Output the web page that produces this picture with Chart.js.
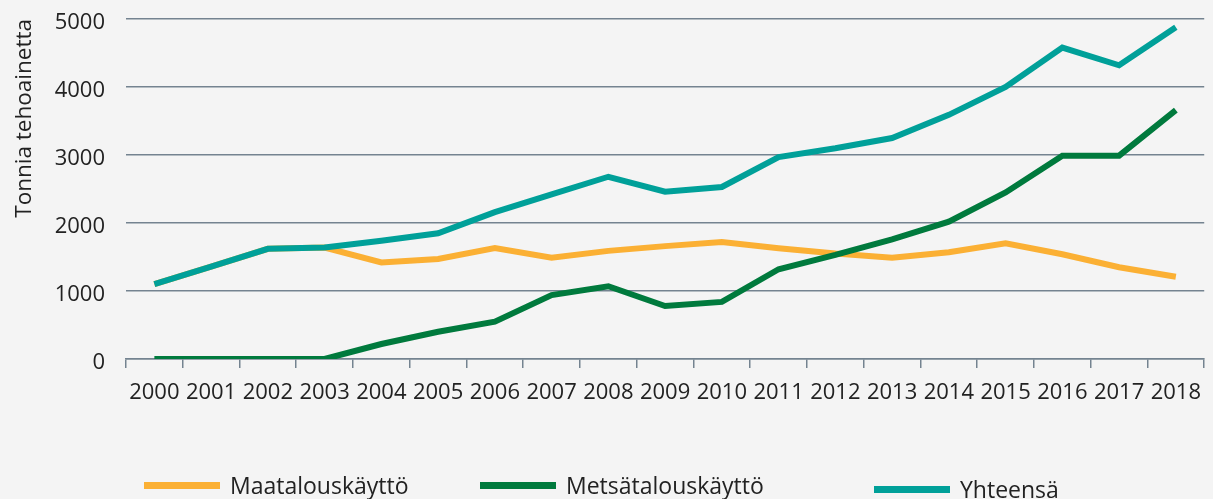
<!DOCTYPE html>
<html lang="fi">
<head>
<meta charset="utf-8">
<title>Tonnia tehoainetta</title>
<script src="https://cdn.jsdelivr.net/npm/chart.js@4"></script>
<style>
  html, body { margin: 0; padding: 0; background: #f4f4f4; }
  #wrap { position: relative; width: 1213px; height: 499px; overflow: hidden; }
  canvas { display: block; }
  #legend { list-style: none; margin: 0; padding: 0; }
  #legend li {
    position: absolute;
    top: 471px;
    height: 28px;
    display: flex;
    align-items: center;
    font: 23px/28px "Open Sans", "Noto Sans", sans-serif;
    color: #222;
    white-space: nowrap;
  }
  #legend li:nth-child(1) { left: 144px; }
  #legend li:nth-child(2) { left: 480px; }
  #legend li:nth-child(3) { left: 874px; top: 475px; }
  #legend .swatch { display: inline-block; width: 76px; height: 7px; margin-right: 10px; }
</style>
</head>
<body>
<div id="wrap">
  <canvas id="chart" width="1213" height="499"></canvas>
  <ul id="legend"></ul>
</div>
<script>
const years = ['2000', '2001', '2002', '2003', '2004', '2005', '2006', '2007', '2008', '2009',
               '2010', '2011', '2012', '2013', '2014', '2015', '2016', '2017', '2018'];

// tonnia tehoainetta, luettu kuvasta
const maatalous   = [1100, 1360, 1620, 1640, 1420, 1470, 1630, 1490, 1590, 1660,
                     1720, 1630, 1550, 1490, 1570, 1700, 1540, 1350, 1210];
const metsatalous = [0, 0, 0, 0, 220, 400, 550, 940, 1070, 780,
                     840, 1320, 1530, 1760, 2020, 2450, 2990, 2990, 3660];
const yhteensa    = [1100, 1360, 1620, 1640, 1740, 1850, 2160, 2420, 2680, 2460,
                     2530, 2970, 3100, 3250, 3590, 4000, 4580, 4320, 4880];

const yMin = 0, yMax = 5000, yStep = 1000;

const gridColor = '#748390';
const textColor = '#222222';
const family = '"Open Sans", "Noto Sans", sans-serif';
const tickFont = { family: family, size: 22 };

function line(label, data, color, order) {
  return {
    label: label,
    data: data,
    borderColor: color,
    backgroundColor: color,
    borderWidth: 6,
    pointRadius: 0,
    tension: 0,
    borderCapStyle: 'butt',
    borderJoinStyle: 'miter',
    order: order   // yhteensä piirretään päällimmäiseksi
  };
}

const chart = new Chart(document.getElementById('chart'), {
  type: 'line',
  data: {
    labels: years,
    datasets: [
      line('Maatalouskäyttö', maatalous, '#fbb034', 2),
      line('Metsätalouskäyttö', metsatalous, '#007a3d', 1),
      line('Yhteensä', yhteensa, '#00a099', 0)
    ]
  },
  options: {
    responsive: false,
    animation: false,
    layout: { padding: { top: 19, right: 0, bottom: 94, left: 0 } },
    plugins: {
      tooltip: { enabled: false },
      legend: { display: false }
    },
    scales: {
      x: {
        offset: true,
        grid: {
          offset: true,
          drawOnChartArea: false,
          drawTicks: true,
          tickLength: 9,
          color: gridColor,
          lineWidth: 1.5
        },
        border: { display: true, color: gridColor, width: 1.5 },
        ticks: { color: textColor, font: tickFont, padding: 12, maxRotation: 0, autoSkip: false },
        afterFit: axis => { axis.height = 46; }
      },
      y: {
        min: yMin,
        max: yMax,
        grid: { drawTicks: true, tickLength: 21, tickColor: 'transparent', color: gridColor, lineWidth: 1.5 },
        border: { display: false },
        ticks: {
          stepSize: yStep,
          color: textColor,
          font: tickFont,
          padding: 0,
          labelOffset: 4,
          callback: value => String(value)
        },
        title: {
          display: true,
          text: 'Tonnia tehoainetta',
          align: 'end',
          color: textColor,
          font: { family: family, size: 22.5 },
          padding: { top: 11, bottom: 0 }
        },
        afterFit: axis => { axis.width = 126; }
      }
    }
  }
});

// selite HTML:nä, jotta kohteiden välit vastaavat alkuperäistä
const legendList = document.getElementById('legend');
Chart.defaults.plugins.legend.labels.generateLabels(chart)
  .sort((a, b) => a.datasetIndex - b.datasetIndex)
  .forEach(item => {
    const li = document.createElement('li');
    const swatch = document.createElement('span');
    swatch.className = 'swatch';
    swatch.style.background = item.strokeStyle;
    li.appendChild(swatch);
    li.appendChild(document.createTextNode(item.text));
    legendList.appendChild(li);
  });
</script>
</body>
</html>
